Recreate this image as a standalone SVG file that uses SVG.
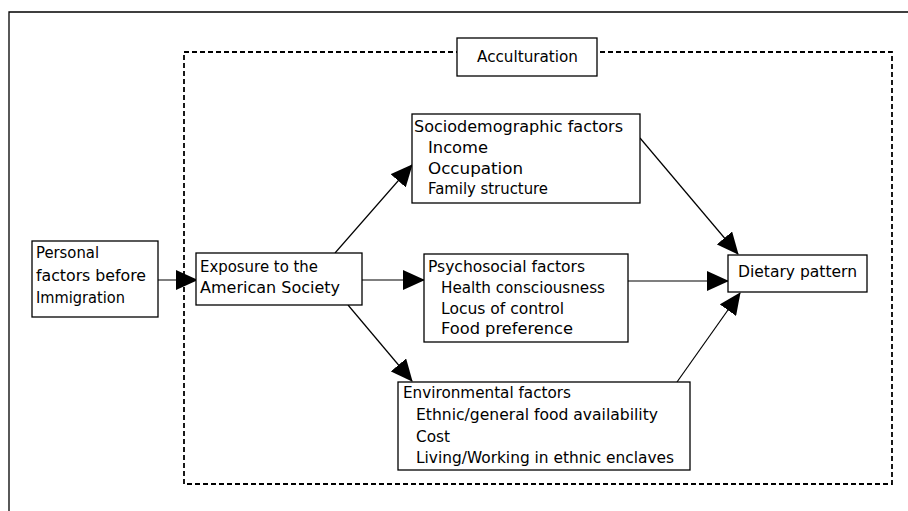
<svg xmlns="http://www.w3.org/2000/svg" width="908" height="511" viewBox="0 0 908 511">
<style>
.box{fill:#fff;stroke:#000;stroke-width:1.3}
.t{font-family:"DejaVu Sans","Liberation Sans",sans-serif;font-size:16px;fill:#000}
.c{stroke:#000;stroke-width:1.2;fill:none;marker-end:url(#ah)}
.frame{stroke:#000;stroke-width:1.3;fill:none}
.dash{stroke:#000;stroke-width:1.8;fill:none;stroke-dasharray:5 3}
</style>
<defs>
<marker id="ah" markerUnits="userSpaceOnUse" markerWidth="22" markerHeight="20" refX="21" refY="10" orient="auto" viewBox="0 0 22 20">
<path d="M0,0 L22,10 L0,20 z" fill="#000"/>
</marker>
</defs>
<rect width="908" height="511" fill="#fff"/>
<g id="frame">
<path class="frame" d="M9,511 L9,12 L908,12"/>
</g>
<g id="acculturation-region">
<rect class="dash" x="184" y="52" width="708" height="432"/>
</g>
<g id="acculturation">
<rect class="box" x="457" y="38" width="140" height="38"/>
<text class="t" x="477" y="62" textLength="101" lengthAdjust="spacingAndGlyphs">Acculturation</text>
</g>
<g id="connectors">
<line class="c" x1="158" y1="280" x2="197" y2="280"/>
<line class="c" x1="335" y1="253" x2="412" y2="165"/>
<line class="c" x1="362" y1="280" x2="424" y2="280"/>
<line class="c" x1="348" y1="305" x2="412" y2="381"/>
<line class="c" x1="640" y1="138" x2="738" y2="254"/>
<line class="c" x1="628" y1="281" x2="728" y2="281"/>
<line class="c" x1="677" y1="382" x2="740" y2="293"/>
</g>
<g id="personal">
<rect class="box" x="32" y="241" width="126" height="76"/>
<text class="t" x="36" y="258" textLength="63" lengthAdjust="spacingAndGlyphs">Personal</text>
<text class="t" x="36" y="281" textLength="110" lengthAdjust="spacingAndGlyphs">factors before</text>
<text class="t" x="36" y="303" textLength="89" lengthAdjust="spacingAndGlyphs">Immigration</text>
</g>
<g id="exposure">
<rect class="box" x="196" y="253" width="166" height="52"/>
<text class="t" x="200" y="272" textLength="118" lengthAdjust="spacingAndGlyphs">Exposure to the</text>
<text class="t" x="200" y="293" textLength="140" lengthAdjust="spacingAndGlyphs">American Society</text>
</g>
<g id="sociodemographic">
<rect class="box" x="412" y="114" width="228" height="89"/>
<text class="t" x="414" y="132" textLength="209" lengthAdjust="spacingAndGlyphs">Sociodemographic factors</text>
<text class="t" x="428" y="153" textLength="60" lengthAdjust="spacingAndGlyphs">Income</text>
<text class="t" x="428" y="174" textLength="95" lengthAdjust="spacingAndGlyphs">Occupation</text>
<text class="t" x="428" y="194" textLength="120" lengthAdjust="spacingAndGlyphs">Family structure</text>
</g>
<g id="psychosocial">
<rect class="box" x="424" y="254" width="204" height="88"/>
<text class="t" x="428" y="272" textLength="157" lengthAdjust="spacingAndGlyphs">Psychosocial factors</text>
<text class="t" x="441" y="293" textLength="164" lengthAdjust="spacingAndGlyphs">Health consciousness</text>
<text class="t" x="441" y="314" textLength="123" lengthAdjust="spacingAndGlyphs">Locus of control</text>
<text class="t" x="441" y="334" textLength="132" lengthAdjust="spacingAndGlyphs">Food preference</text>
</g>
<g id="dietary">
<rect class="box" x="728" y="255" width="139" height="37"/>
<text class="t" x="738" y="277" textLength="119" lengthAdjust="spacingAndGlyphs">Dietary pattern</text>
</g>
<g id="environmental">
<rect class="box" x="398" y="382" width="292" height="88"/>
<text class="t" x="403" y="398" textLength="168" lengthAdjust="spacingAndGlyphs">Environmental factors</text>
<text class="t" x="416" y="420" textLength="242" lengthAdjust="spacingAndGlyphs">Ethnic/general food availability</text>
<text class="t" x="416" y="442" textLength="34" lengthAdjust="spacingAndGlyphs">Cost</text>
<text class="t" x="416" y="463" textLength="258" lengthAdjust="spacingAndGlyphs">Living/Working in ethnic enclaves</text>
</g>
</svg>
